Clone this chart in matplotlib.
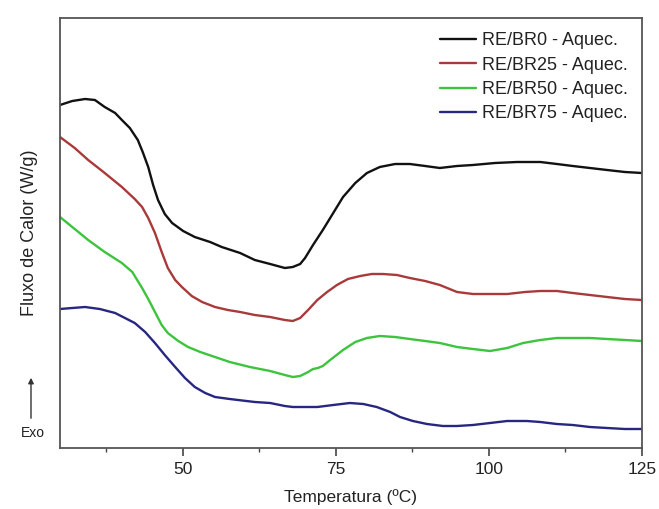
import numpy as np
import matplotlib
matplotlib.use('Agg')
import matplotlib.pyplot as plt
from matplotlib.ticker import MultipleLocator

plt.rcParams['font.family'] = ['Liberation Sans', 'DejaVu Sans']

# curvas DSC (unidades arbitrarias)
x_br0 = [30.0, 32.0, 34.1, 35.7, 37.3, 39.0, 40.1, 41.4, 42.7, 43.5,
         44.4, 45.2, 46.0, 47.1, 48.3, 50.1, 52.0, 54.5, 56.4, 59.4,
         61.8, 64.3, 66.7, 68.0, 69.2, 70.0, 71.3, 72.9, 74.6, 76.2,
         78.2, 80.1, 82.2, 84.7, 87.1, 89.6, 92.0, 94.8, 97.4, 101.0,
         104.6, 108.4, 111.1, 113.7, 116.5, 119.3, 122.2, 125.0]
y_br0 = [343, 347, 349, 348, 341, 335, 328, 320, 308, 296,
         281, 263, 248, 234, 225, 217, 211, 206, 201, 195,
         188, 184, 180, 181, 184, 190, 203, 218, 235, 251,
         265, 275, 281, 284, 284, 282, 280, 282, 283, 285,
         286, 286, 284, 282, 280, 278, 276, 275]

x_br25 = [30.0, 32.4, 34.6, 37.3, 40.1, 42.2, 43.4, 44.4, 45.5, 46.6,
          47.6, 48.8, 49.9, 51.5, 53.2, 55.3, 57.4, 59.4, 61.8, 64.3,
          66.7, 68.0, 69.2, 70.5, 72.0, 73.6, 75.2, 77.0, 79.0, 80.9,
          82.7, 85.0, 87.1, 89.6, 92.0, 94.8, 97.4, 100.2, 103.0, 105.9,
          108.4, 111.1, 113.7, 116.5, 119.3, 122.2, 125.0]
y_br25 = [311, 300, 288, 275, 261, 249, 241, 230, 215, 196,
          180, 168, 161, 152, 146, 141, 138, 136, 133, 131,
          128, 127, 130, 138, 148, 156, 163, 169, 172, 174,
          174, 173, 170, 167, 163, 156, 154, 154, 154, 156,
          157, 157, 155, 153, 151, 149, 148]

x_br50 = [30.0, 32.4, 34.6, 37.3, 40.1, 41.8, 43.4, 44.4, 45.5, 46.6,
          47.6, 49.3, 50.9, 52.9, 55.3, 57.7, 61.0, 64.3, 66.7, 68.0,
          69.2, 70.5, 71.3, 72.1, 72.9, 74.1, 76.2, 78.2, 80.1, 82.2,
          84.7, 87.1, 89.6, 92.0, 94.8, 97.4, 100.2, 103.0, 105.6, 108.4,
          111.1, 113.7, 116.5, 119.3, 122.2, 125.0]
y_br50 = [231, 219, 208, 196, 185, 176, 160, 149, 136, 123,
          115, 107, 101, 96, 91, 86, 81, 77, 73, 71,
          72, 76, 79, 80, 82, 88, 98, 106, 110, 112,
          111, 109, 107, 105, 101, 99, 97, 100, 105, 108,
          110, 110, 110, 109, 108, 107]

x_br75 = [30.0, 32.0, 34.1, 36.5, 39.0, 40.6, 42.2, 43.9, 45.5, 47.1,
          48.8, 50.4, 52.0, 53.7, 55.3, 57.7, 61.8, 64.3, 66.7, 68.0,
          70.0, 72.0, 74.6, 77.3, 79.5, 81.7, 83.9, 85.5, 87.6, 89.9,
          92.5, 94.8, 97.4, 100.2, 103.0, 106.2, 108.4, 111.1, 113.7, 116.5,
          119.3, 122.2, 125.0]
y_br75 = [139, 140, 141, 139, 135, 130, 125, 116, 105, 93,
          81, 70, 61, 55, 51, 49, 46, 45, 42, 41,
          41, 41, 43, 45, 44, 41, 36, 31, 27, 24,
          22, 22, 23, 25, 27, 27, 26, 24, 23, 21,
          20, 19, 19]

series = [
    (x_br0, y_br0, 'RE/BR0 - Aquec.', '#111111'),
    (x_br25, y_br25, 'RE/BR25 - Aquec.', '#a83a3a'),
    (x_br50, y_br50, 'RE/BR50 - Aquec.', '#3cc43c'),
    (x_br75, y_br75, 'RE/BR75 - Aquec.', '#272782'),
]

fig = plt.figure(figsize=(6.59, 5.09), dpi=100)
ax = fig.add_axes([60 / 659, 1 - 448 / 509, 582 / 659, 430 / 509])

for xs, ys, lab, cor in series:
    ax.plot(xs, ys, color=cor, lw=1.7, label=lab,
            solid_joinstyle='round', solid_capstyle='round')

ax.set_xlim(30, 125)
ax.set_ylim(0, 430)
ax.xaxis.set_major_locator(MultipleLocator(25))
ax.xaxis.set_minor_locator(MultipleLocator(12.5))
ax.set_yticks([])
ax.tick_params(axis='x', which='major', direction='out', length=6, width=1.2,
               color='#444444', labelsize=12.5, pad=4, labelcolor='#222222')
ax.tick_params(axis='x', which='minor', direction='out', length=3, width=1.0, color='#444444')
for s in ax.spines.values():
    s.set_color('#555555')
    s.set_linewidth(1.3)

ax.set_xlabel('Temperatura (ºC)', fontsize=12.5, labelpad=9, color='#222222')
ax.set_ylabel('Fluxo de Calor (W/g)', fontsize=13, labelpad=16, color='#222222')

leg = ax.legend(loc='upper right', frameon=False, fontsize=13, handlelength=2.0,
                handletextpad=0.3, labelspacing=0.4, borderaxespad=0.4)
for t in leg.get_texts():
    t.set_color('#222222')

# seta Exo
fig.text(33 / 659, 1 - 433 / 509, 'Exo', fontsize=10, ha='center', va='center', color='#222222')
ax.annotate('', xy=(31 / 659, 1 - 375 / 509), xytext=(31 / 659, 1 - 421 / 509),
            xycoords='figure fraction', textcoords='figure fraction',
            arrowprops=dict(arrowstyle='-|>', color='#333333', lw=1.0, mutation_scale=8))

fig.savefig('out.png', dpi=100)
